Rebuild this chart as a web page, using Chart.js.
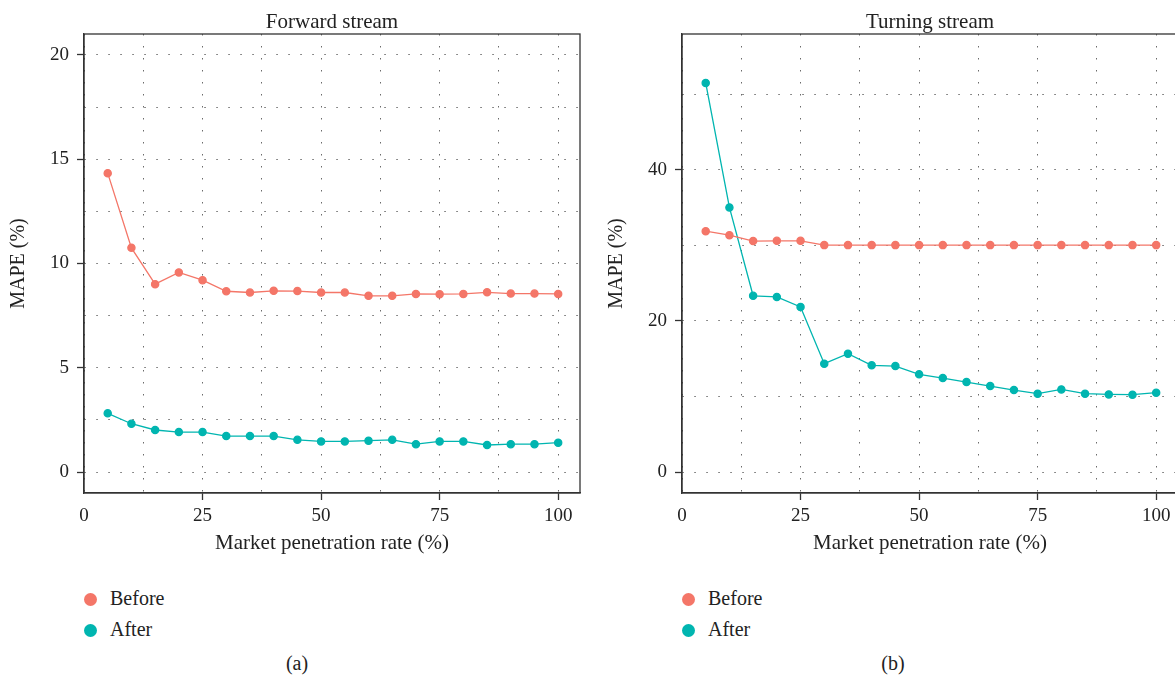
<!DOCTYPE html>
<html>
<head>
<meta charset="utf-8">
<script src="https://cdn.jsdelivr.net/npm/chart.js@4.4.1/dist/chart.umd.min.js"></script>
<style>
  body { margin: 0; width: 1175px; height: 680px; overflow: hidden; background: #fff; position: relative;
         font-family: 'Liberation Serif', 'DejaVu Serif', serif; color: #222; }
  canvas { position: absolute; top: 0; }
  .item { position: absolute; white-space: nowrap; font-size: 20px; line-height: 20px; }
  .dot { position: absolute; width: 13px; height: 13px; border-radius: 50%; }
  .cap { position: absolute; top: 653px; font-size: 20px; line-height: 20px; transform: translateX(-50%); }
</style>
</head>
<body>
<canvas id="forward" width="600" height="560" style="left:0"></canvas>
<canvas id="turning" width="600" height="560" style="left:598px"></canvas>
<div id="legends"></div>

<script>
// Market penetration rate (%)
const rates = [5, 10, 15, 20, 25, 30, 35, 40, 45, 50, 55, 60, 65, 70, 75, 80, 85, 90, 95, 100];

// MAPE (%) - forward stream
const forwardBefore = [14.33, 10.75, 9.01, 9.57, 9.20, 8.67, 8.61, 8.69, 8.68, 8.61,
                       8.61, 8.45, 8.45, 8.54, 8.53, 8.54, 8.62, 8.56, 8.56, 8.54];
const forwardAfter = [2.82, 2.32, 2.02, 1.92, 1.92, 1.73, 1.73, 1.73, 1.55, 1.47,
                      1.47, 1.51, 1.55, 1.34, 1.47, 1.47, 1.30, 1.34, 1.34, 1.41];

// MAPE (%) - turning stream
const turningBefore = [31.88, 31.35, 30.56, 30.6, 30.6, 30.03, 30.03, 30.03, 30.03, 30.03,
                       30.03, 30.03, 30.03, 30.03, 30.03, 30.03, 30.03, 30.03, 30.03, 30.03];
const turningAfter = [51.48, 35.02, 23.33, 23.18, 21.86, 14.35, 15.68, 14.13, 14.04, 12.94,
                      12.45, 11.92, 11.39, 10.86, 10.38, 10.95, 10.38, 10.29, 10.25, 10.52];

const seriesNames = ['Before', 'After'];
const seriesColors = ['#F47668', '#00B5B0'];

// gridlines (major + minor) and labelled ticks
const xGrid = [0, 12.5, 25, 37.5, 50, 62.5, 75, 87.5, 100];
const xTicks = [0, 25, 50, 75, 100];
const yGridForward = [0, 2.5, 5, 7.5, 10, 12.5, 15, 17.5, 20];
const yTicksForward = [0, 5, 10, 15, 20];
const yGridTurning = [0, 10, 20, 30, 40, 50];
const yTicksTurning = [0, 20, 40];

const FONT = "'Liberation Serif', 'DejaVu Serif', serif";
const INK = '#222';

const framePlugin = {
  id: 'frame',
  beforeDatasetsDraw(chart) {
    const a = chart.chartArea, c = chart.ctx;
    c.save();
    c.strokeStyle = '#333';
    c.lineWidth = 1.3;
    c.strokeRect(a.left, a.top, a.right - a.left, a.bottom - a.top);
    c.restore();
  },
  afterDraw(chart) {
    const a = chart.chartArea, c = chart.ctx;
    c.save();
    c.font = '21px ' + FONT;
    c.fillStyle = INK;
    c.textAlign = 'center';
    c.textBaseline = 'alphabetic';
    c.fillText(chart.options.plugins.frame.title, (a.left + a.right) / 2, 28);
    c.restore();
  }
};

function makeChart(id, title, before, after, yMin, yMax, yGrid, yTicks) {
  const vals = [before, after];
  new Chart(document.getElementById(id), {
    type: 'line',
    data: {
      datasets: seriesNames.map((name, k) => ({
        label: name,
        data: rates.map((r, i) => ({ x: r, y: vals[k][i] })),
        borderColor: seriesColors[k],
        backgroundColor: seriesColors[k],
        borderWidth: 1.3,
        pointRadius: 3.6,
        pointHoverRadius: 3.6,
        tension: 0
      }))
    },
    options: {
      responsive: false,
      animation: false,
      devicePixelRatio: 1,
      layout: { padding: { left: 0, top: 34, right: 20, bottom: 0 } },
      plugins: {
        legend: { display: false },
        tooltip: { enabled: false },
        frame: { title: title }
      },
      scales: {
        x: {
          type: 'linear',
          min: 0,
          max: 104.6,
          afterBuildTicks: s => { s.ticks = xGrid.map(v => ({ value: v })); },
          afterFit: s => { s.height = 67; },
          ticks: {
            autoSkip: false,
            maxRotation: 0,
            padding: 5,
            color: INK,
            font: { family: FONT, size: 19 },
            callback: v => xTicks.includes(v) ? String(v) : ''
          },
          grid: {
            color: '#6a6a6a',
            lineWidth: 1,
            tickLength: 7,
            tickWidth: 1.3,
            tickColor: ctx => xTicks.includes(ctx.tick.value) && ctx.tick.value !== 0 ? '#333' : 'rgba(0,0,0,0)'
          },
          border: { display: true, color: '#333', width: 1.3, dash: [1.5, 10.5] },
          title: {
            display: true,
            text: 'Market penetration rate (%)',
            color: INK,
            font: { family: FONT, size: 21 },
            padding: { top: 0, bottom: 4 }
          }
        },
        y: {
          min: yMin,
          max: yMax,
          afterBuildTicks: s => { s.ticks = yGrid.map(v => ({ value: v })); },
          afterFit: s => { s.width = 84; },
          ticks: {
            autoSkip: false,
            padding: 8,
            color: INK,
            font: { family: FONT, size: 19 },
            callback: v => yTicks.includes(v) ? String(v) : ''
          },
          grid: {
            color: '#6a6a6a',
            lineWidth: 1,
            tickLength: 7,
            tickWidth: 1.3,
            tickColor: ctx => yTicks.includes(ctx.tick.value) ? '#333' : 'rgba(0,0,0,0)'
          },
          border: { display: true, color: '#333', width: 1.3, dash: [1.5, 10.5] },
          title: {
            display: true,
            text: 'MAPE (%)',
            color: INK,
            font: { family: FONT, size: 20 },
            padding: { top: 7, bottom: 0 }
          }
        }
      }
    },
    plugins: [framePlugin]
  });
}

makeChart('forward', 'Forward stream', forwardBefore, forwardAfter, -1, 21, yGridForward, yTicksForward);
makeChart('turning', 'Turning stream', turningBefore, turningAfter, -2.75, 57.95, yGridTurning, yTicksTurning);

// legends and panel captions
const legendHost = document.getElementById('legends');
const legendOffsets = [0, 598];
const captions = ['(a)', '(b)'];
legendOffsets.forEach((off, p) => {
  seriesNames.forEach((name, k) => {
    const top = 588 + k * 31;
    const dot = document.createElement('div');
    dot.className = 'dot';
    dot.style.left = (off + 84) + 'px';
    dot.style.top = (top + 4.5) + 'px';
    dot.style.background = seriesColors[k];
    legendHost.appendChild(dot);
    const txt = document.createElement('div');
    txt.className = 'item';
    txt.style.left = (off + 110) + 'px';
    txt.style.top = top + 'px';
    txt.textContent = name;
    legendHost.appendChild(txt);
  });
  const cap = document.createElement('div');
  cap.className = 'cap';
  cap.style.left = (297 + (p ? 596 : 0)) + 'px';
  cap.textContent = captions[p];
  legendHost.appendChild(cap);
});
</script>
</body>
</html>
